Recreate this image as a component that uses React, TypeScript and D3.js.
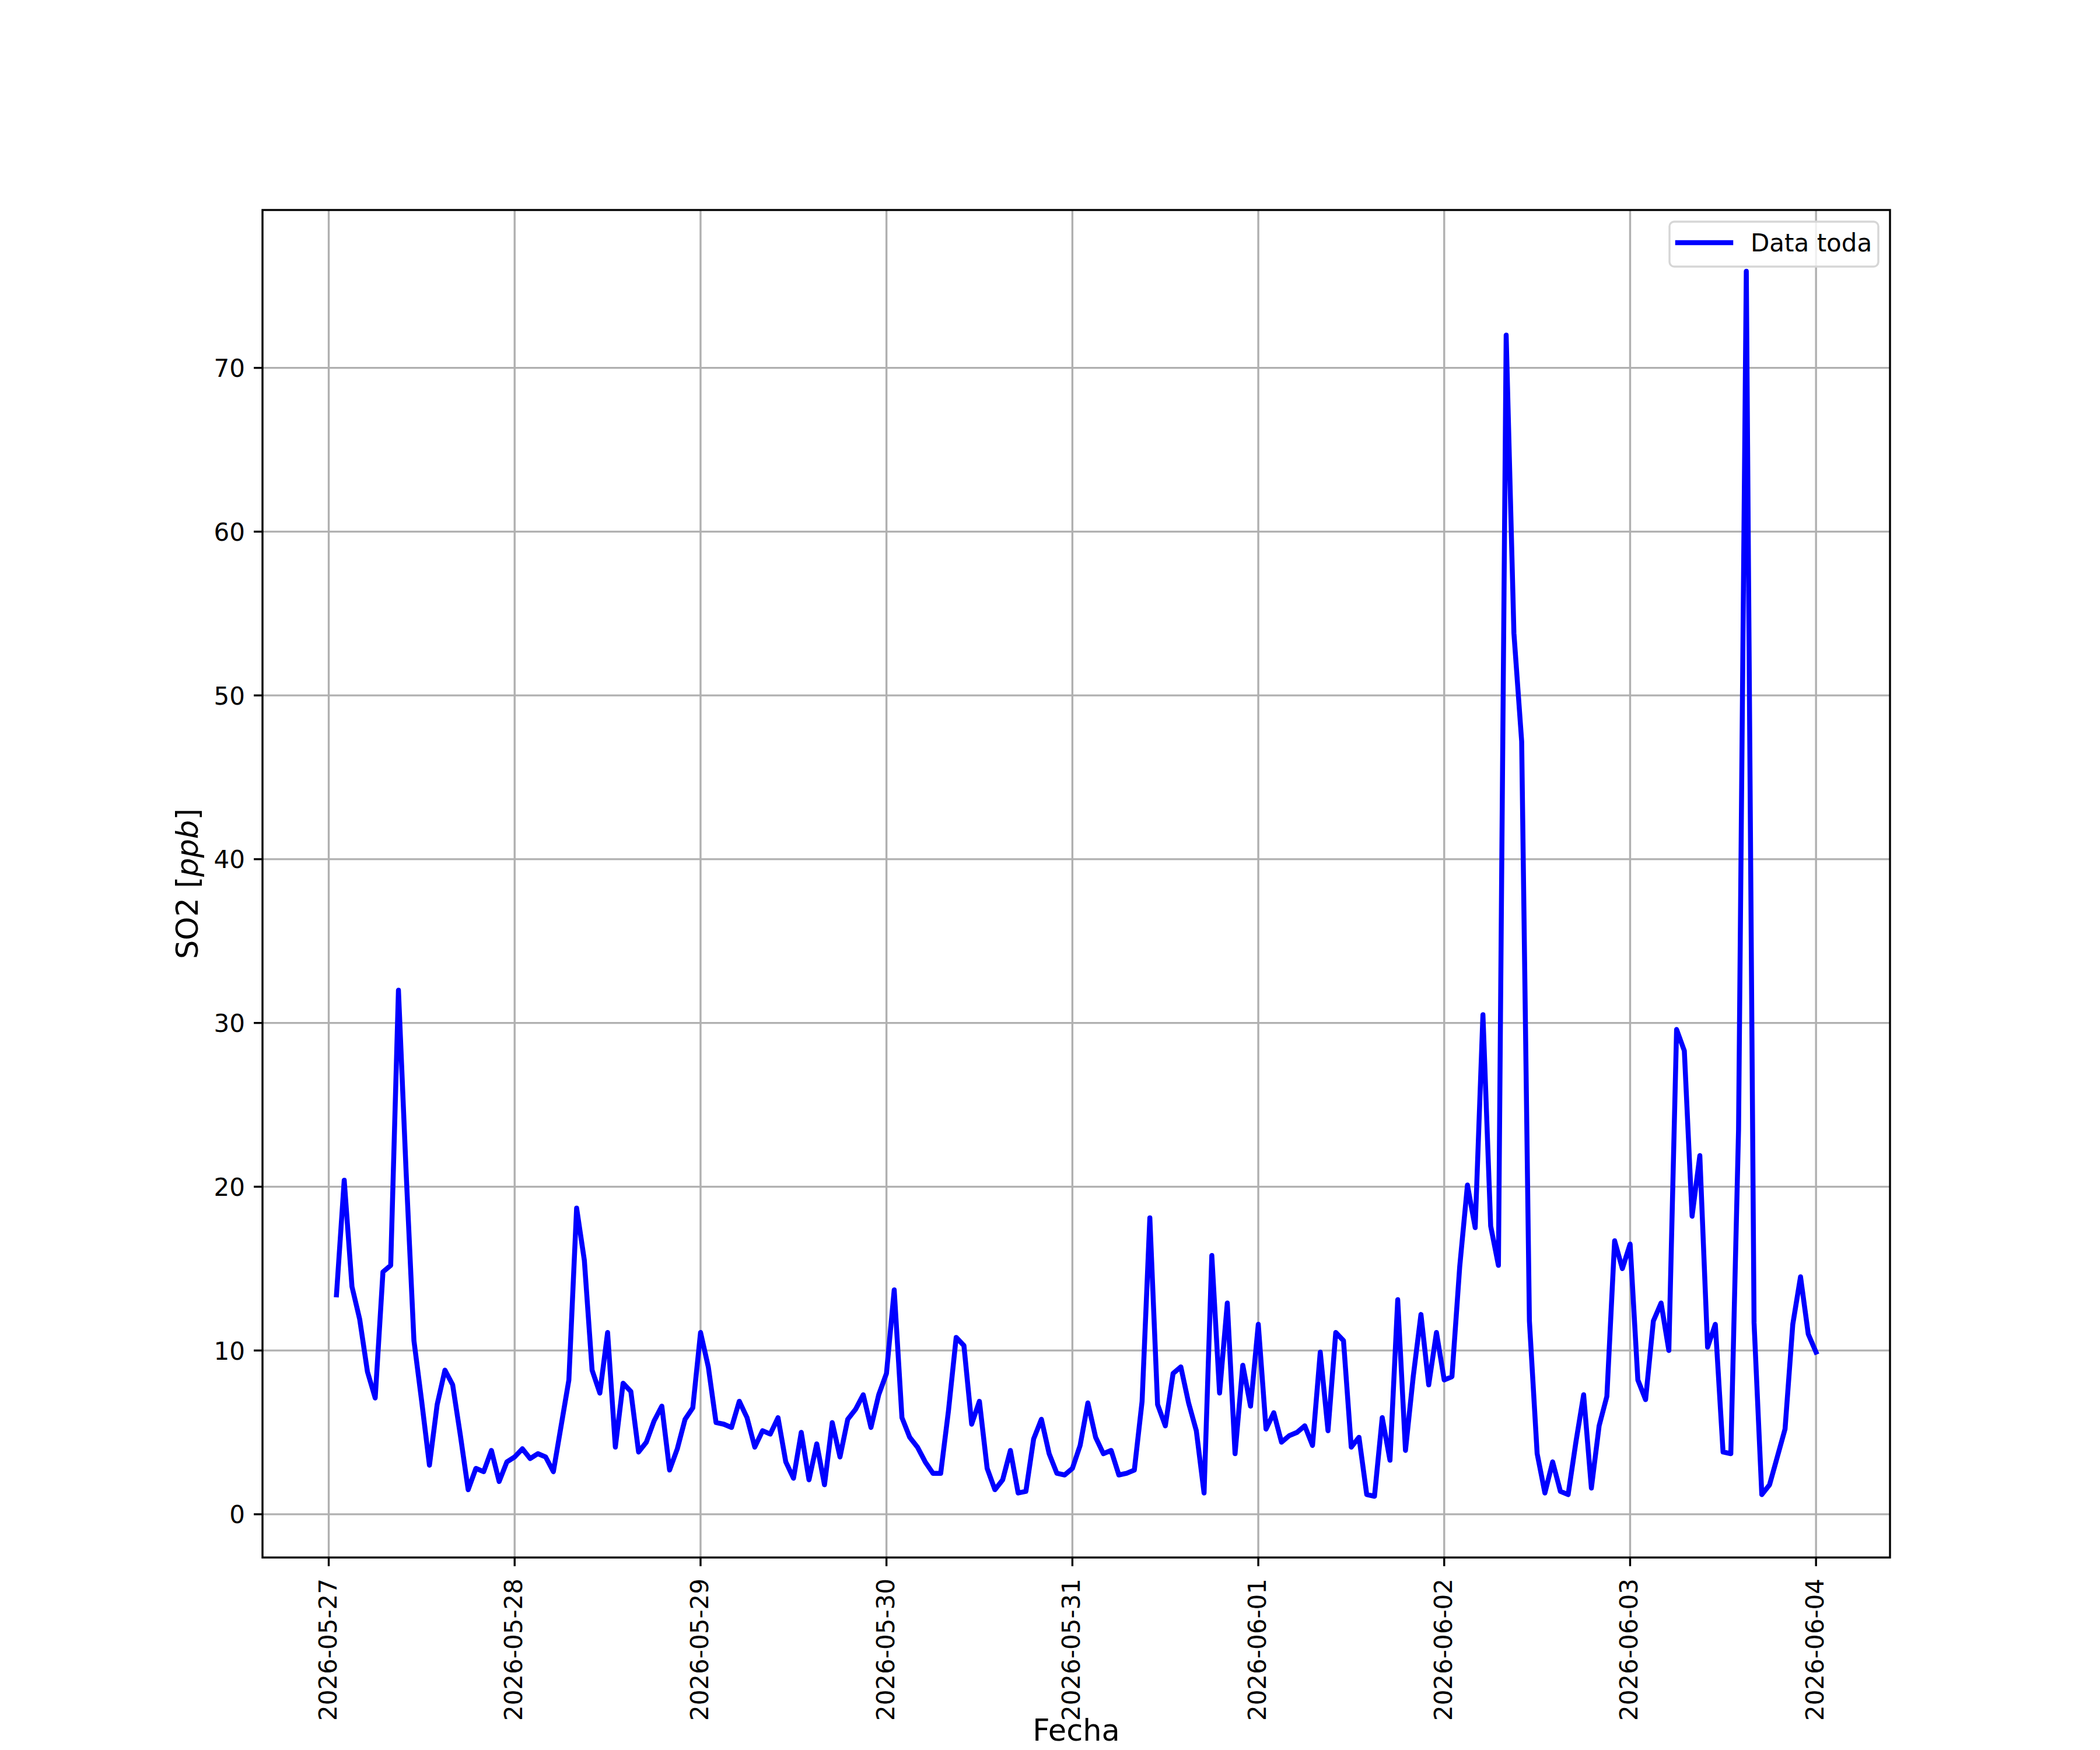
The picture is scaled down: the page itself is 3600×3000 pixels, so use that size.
import React from 'react';
import * as d3 from 'd3';

// hourly SO2 readings, first one at 2026-05-27 01:00 (UTC), last at 2026-06-04 00:00
const seriesStart = '2026-05-27T00:00:00Z';
const so2Values: number[] = [
    13.4, 20.4, 13.9, 11.9, 8.7, 7.1, 14.8, 15.2, 32.0, 20.8, 10.6, 6.9,
    3.0, 6.7, 8.8, 7.9, 4.8, 1.5, 2.8, 2.6, 3.9, 2.0, 3.2, 3.5,
    4.0, 3.4, 3.7, 3.5, 2.6, 5.4, 8.2, 18.7, 15.5, 8.8, 7.4, 11.1,
    4.1, 8.0, 7.5, 3.8, 4.4, 5.7, 6.6, 2.7, 4.0, 5.8, 6.5, 11.1,
    9.0, 5.6, 5.5, 5.3, 6.9, 5.9, 4.1, 5.1, 4.9, 5.9, 3.2, 2.2,
    5.0, 2.1, 4.3, 1.8, 5.6, 3.5, 5.8, 6.4, 7.3, 5.3, 7.3, 8.6,
    13.7, 5.9, 4.7, 4.1, 3.2, 2.5, 2.5, 6.3, 10.8, 10.3, 5.5, 6.9,
    2.8, 1.5, 2.1, 3.9, 1.3, 1.4, 4.6, 5.8, 3.7, 2.5, 2.4, 2.8,
    4.2, 6.8, 4.7, 3.7, 3.9, 2.4, 2.5, 2.7, 6.9, 18.1, 6.7, 5.4,
    8.6, 9.0, 6.8, 5.1, 1.3, 15.8, 7.4, 12.9, 3.7, 9.1, 6.6, 11.6,
    5.2, 6.2, 4.4, 4.8, 5.0, 5.4, 4.2, 9.9, 5.1, 11.1, 10.6, 4.1,
    4.7, 1.2, 1.1, 5.9, 3.3, 13.1, 3.9, 8.4, 12.2, 7.9, 11.1, 8.2,
    8.4, 15.1, 20.1, 17.5, 30.5, 17.6, 15.2, 72.0, 53.8, 47.2, 11.8, 3.7,
    1.3, 3.2, 1.4, 1.2, 4.4, 7.3, 1.6, 5.4, 7.2, 16.7, 15.0, 16.5,
    8.2, 7.0, 11.8, 12.9, 10.0, 29.6, 28.3, 18.2, 21.9, 10.2, 11.6, 3.8,
    3.7, 23.5, 75.9, 11.7, 1.2, 1.8, 3.5, 5.2, 11.6, 14.5, 11.0, 9.9,
];

const dateTickLabels = [
    '2026-05-27', '2026-05-28', '2026-05-29', '2026-05-30', '2026-05-31',
    '2026-06-01', '2026-06-02', '2026-06-03', '2026-06-04',
];
const yTickValues = [0, 10, 20, 30, 40, 50, 60, 70];

const W = 3600;
const H = 3000;
const left = 450;
const right = 3240;
const top = 360;
const bottom = 2670;
const font = '"DejaVu Sans", sans-serif';
const tickFont = 42;

interface Point {
    t: Date;
    v: number;
}

const points: Point[] = so2Values.map((v, i) => ({
    t: d3.utcHour.offset(new Date(seriesStart), i + 1),
    v,
}));

// matplotlib style 5% margins
const pad = (lo: number, hi: number) => {
    const m = (hi - lo) * 0.05;
    return [lo - m, hi + m];
};

const App: React.FC = () => {
    const t0 = points[0].t.getTime();
    const t1 = points[points.length - 1].t.getTime();
    const [xl, xh] = pad(t0, t1);
    const x = d3
        .scaleUtc()
        .domain([new Date(xl), new Date(xh)])
        .range([left, right]);

    const [yl, yh] = pad(d3.min(so2Values) ?? 0, d3.max(so2Values) ?? 1);
    const y = d3.scaleLinear().domain([yl, yh]).range([bottom, top]);

    const line = d3
        .line<Point>()
        .x((d) => x(d.t))
        .y((d) => y(d.v));

    const parse = d3.utcParse('%Y-%m-%d');
    const dateTicks = dateTickLabels.map((s) => ({ s, d: parse(s) as Date }));

    return (
        <div style={{ position: 'absolute', left: 0, top: 0 }}>
            <svg width={W} height={H} viewBox={`0 0 ${W} ${H}`} style={{ display: 'block', background: '#fff' }}>
                <rect x={0} y={0} width={W} height={H} fill="#fff" />
                <defs>
                    <clipPath id="plot">
                        <rect x={left} y={top} width={right - left} height={bottom - top} />
                    </clipPath>
                </defs>

                {/* grid */}
                <g stroke="#b0b0b0" strokeWidth={3.4}>
                    {dateTicks.map((t) => (
                        <line key={t.s} x1={x(t.d)} x2={x(t.d)} y1={top} y2={bottom} />
                    ))}
                    {yTickValues.map((v) => (
                        <line key={v} x1={left} x2={right} y1={y(v)} y2={y(v)} />
                    ))}
                </g>

                <path
                    d={line(points) ?? ''}
                    fill="none"
                    stroke="#0000ff"
                    strokeWidth={8.5}
                    strokeLinejoin="round"
                    strokeLinecap="square"
                    clipPath="url(#plot)"
                />

                {/* spines */}
                <rect x={left} y={top} width={right - left} height={bottom - top} fill="none" stroke="#000" strokeWidth={3.4} />

                {/* x axis */}
                <g fontFamily={font} fontSize={tickFont} fill="#000">
                    {dateTicks.map((t) => (
                        <g key={t.s} transform={`translate(${x(t.d)},${bottom})`}>
                            <line y1={0} y2={14.9} stroke="#000" strokeWidth={3.4} />
                            <text transform="translate(0,36) rotate(-90)" textAnchor="end" dy={13}>
                                {t.s}
                            </text>
                        </g>
                    ))}
                </g>

                {/* y axis */}
                <g fontFamily={font} fontSize={tickFont} fill="#000">
                    {yTickValues.map((v) => (
                        <g key={v} transform={`translate(${left},${y(v)})`}>
                            <line x1={-14.9} x2={0} stroke="#000" strokeWidth={3.4} />
                            <text x={-30} dy={15.5} textAnchor="end">
                                {v}
                            </text>
                        </g>
                    ))}
                </g>

                <text
                    transform={`translate(339,${(top + bottom) / 2}) rotate(-90)`}
                    textAnchor="middle"
                    fontFamily={font}
                    fontSize={51}
                >
                    SO2 [<tspan fontStyle="italic">ppb</tspan>]
                </text>
                <text x={(left + right) / 2} y={2984} textAnchor="middle" fontFamily={font} fontSize={51}>
                    Fecha
                </text>

                {/* legend */}
                <g>
                    <rect x={2862} y={380} width={358} height={77} rx={8} fill="#fff" fillOpacity={0.8} stroke="#d6d6d6" strokeWidth={3.4} />
                    <line x1={2876} x2={2967} y1={416} y2={416} stroke="#0000ff" strokeWidth={8.5} strokeLinecap="square" />
                    <text x={3001} y={431} fontFamily={font} fontSize={tickFont}>
                        Data toda
                    </text>
                </g>
            </svg>
        </div>
    );
};

export default App;
